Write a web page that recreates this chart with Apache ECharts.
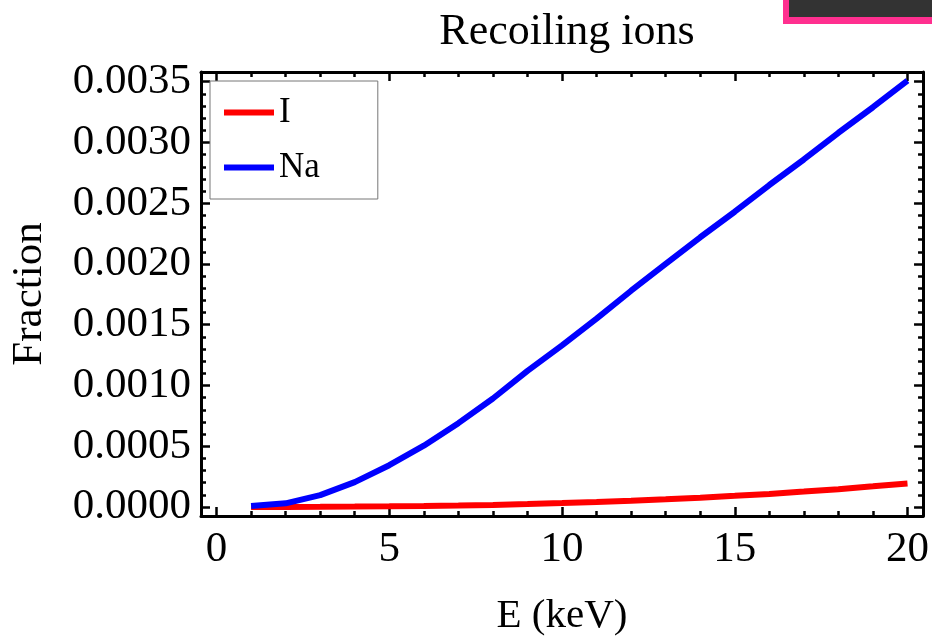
<!DOCTYPE html>
<html>
<head>
<meta charset="utf-8">
<script src="https://cdn.jsdelivr.net/npm/echarts@6/dist/echarts.min.js"></script>
<style>
  html, body { margin: 0; padding: 0; background: #fff; }
  #chart { width: 932px; height: 642px; }
</style>
</head>
<body>
<div id="chart"></div>
<script>
// 能量 (keV)
var energy = [1, 2, 3, 4, 5, 6, 7, 8, 9, 10, 11, 12, 13, 14, 15, 16, 17, 18, 19, 20];
// I 反冲离子比例
var iFraction = [0.0000002, 0.0000008, 0.000002, 0.0000035, 0.0000055, 0.000008, 0.000012, 0.000017,
    0.000024, 0.000032, 0.000041, 0.000052, 0.000064, 0.000077, 0.000092, 0.000108, 0.000127,
    0.000147, 0.00017, 0.000194];
// Na 反冲离子比例
var naFraction = [0.000008, 0.00003, 0.000098, 0.000205, 0.000344, 0.000505, 0.00069, 0.000893,
    0.00112, 0.00133, 0.00155, 0.00178, 0.0020, 0.00222, 0.00243, 0.00265, 0.00286,
    0.00308, 0.00329, 0.00351];
// 刻度
var xMajor = [0, 5, 10, 15, 20];
var xMinor = [1, 2, 3, 4, 6, 7, 8, 9, 11, 12, 13, 14, 16, 17, 18, 19];
var yMajor = [0, 0.0005, 0.001, 0.0015, 0.002, 0.0025, 0.003, 0.0035];
var yMinor = [];
for (var k = 0; k < 36; k++) {
    if (k % 5 !== 0) yMinor.push(k * 0.0001);
}

var font = 'Liberation Serif';
var xMin = -0.45, xMax = 20.45;
var yMin = -0.000074, yMax = 0.00358;

function pairs(xs, ys) {
    return xs.map(function (x, i) { return [x, ys[i]]; });
}

// 坐标轴（四边都有刻度，长刻度 + 短刻度分开画）
function xAxisOf(pos, ticks, len, main) {
    return {
        type: 'value', position: pos, min: xMin, max: xMax,
        axisLine: { show: main, onZero: false, lineStyle: { color: '#000', width: 3 } },
        axisTick: { show: true, inside: true, length: len, customValues: ticks, lineStyle: { color: '#000', width: 2.5 } },
        axisLabel: main && pos === 'bottom' ? {
            show: true, customValues: xMajor, margin: 12,
            color: '#000', fontFamily: font, fontSize: 43
        } : { show: false },
        splitLine: { show: false },
        name: main && pos === 'bottom' ? 'E (keV)' : '',
        nameLocation: 'middle', nameGap: 80,
        nameTextStyle: { color: '#000', fontFamily: font, fontSize: 41 }
    };
}
function yAxisOf(pos, ticks, len, main) {
    return {
        type: 'value', position: pos, min: yMin, max: yMax,
        axisLine: { show: main, onZero: false, lineStyle: { color: '#000', width: 3 } },
        axisTick: { show: true, inside: true, length: len, customValues: ticks, lineStyle: { color: '#000', width: 2.5 } },
        axisLabel: main && pos === 'left' ? {
            show: true, customValues: yMajor, margin: 10,
            color: '#000', fontFamily: font, fontSize: 43,
            formatter: function (v) { return v.toFixed(4); }
        } : { show: false },
        splitLine: { show: false },
        name: main && pos === 'left' ? 'Fraction' : '',
        nameLocation: 'middle', nameGap: 150,
        nameTextStyle: { color: '#000', fontFamily: font, fontSize: 43 }
    };
}

var chart = echarts.init(document.getElementById('chart'));
chart.setOption({
    animation: false,
    title: {
        text: 'Recoiling ions', left: 562, top: 5, textAlign: 'center',
        textStyle: { color: '#000', fontFamily: font, fontSize: 44, fontWeight: 'normal' }
    },
    grid: { left: 201, right: 7, top: 72, bottom: 124 },
    legend: {
        orient: 'vertical', left: 210, top: 81,
        padding: [14, 58, 14, 14], itemGap: 20,
        borderColor: '#777', borderWidth: 1, backgroundColor: '#fff',
        icon: 'rect', itemWidth: 50, itemHeight: 6,
        textStyle: { color: '#000', fontFamily: font, fontSize: 35 },
        data: ['I', 'Na']
    },
    xAxis: [
        xAxisOf('bottom', xMajor, 9, true),
        xAxisOf('bottom', xMinor, 5, false),
        xAxisOf('top', xMajor, 9, true),
        xAxisOf('top', xMinor, 5, false)
    ],
    yAxis: [
        yAxisOf('left', yMajor, 9, true),
        yAxisOf('left', yMinor, 5, false),
        yAxisOf('right', yMajor, 9, true),
        yAxisOf('right', yMinor, 5, false)
    ],
    graphic: [
        // 右上角截图残留的色块
        { type: 'rect', shape: { x: 783, y: -5, width: 160, height: 29 }, style: { fill: '#ff2f8f' } },
        { type: 'rect', shape: { x: 789, y: -5, width: 160, height: 22 }, style: { fill: '#333' } }
    ],
    series: [
        {
            name: 'I', type: 'line', data: pairs(energy, iFraction),
            showSymbol: false, z: 3,
            lineStyle: { color: '#ff0000', width: 6 }, itemStyle: { color: '#ff0000' }
        },
        {
            name: 'Na', type: 'line', data: pairs(energy, naFraction),
            showSymbol: false, z: 4,
            lineStyle: { color: '#0000ff', width: 6 }, itemStyle: { color: '#0000ff' }
        }
    ]
});
</script>
</body>
</html>
